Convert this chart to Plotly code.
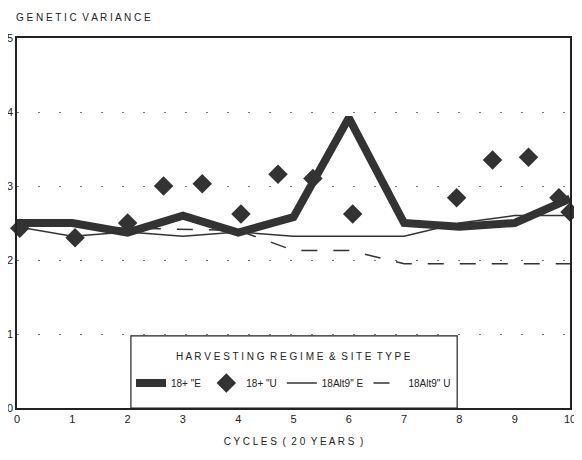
import plotly.graph_objects as go

cycles = [0, 1, 2, 3, 4, 5, 6, 7, 8, 9, 10]
e18 = [2.5, 2.5, 2.37, 2.6, 2.37, 2.58, 3.92, 2.5, 2.45, 2.5, 2.83]
alt9_e = [2.45, 2.32, 2.38, 2.32, 2.38, 2.32, 2.32, 2.32, 2.5, 2.6, 2.6]
alt9_u = [2.5, 2.45, 2.43, 2.42, 2.4, 2.13, 2.13, 1.95, 1.95, 1.95, 1.95]
u18_x = [0.05, 1.05, 2.0, 2.65, 3.35, 4.05, 4.72, 5.35, 6.07, 7.95, 8.6, 9.25, 9.8, 10.0]
u18_y = [2.43, 2.3, 2.5, 3.0, 3.03, 2.62, 3.16, 3.1, 2.62, 2.84, 3.35, 3.39, 2.84, 2.65]

dark = "#333333"
fig = go.Figure()
fig.add_trace(go.Scatter(x=cycles, y=e18, mode="lines", name="18+ \"E",
                         line=dict(color=dark, width=8)))
fig.add_trace(go.Scatter(x=u18_x, y=u18_y, mode="markers", name="18+ \"U",
                         marker=dict(symbol="diamond", size=15, color=dark), cliponaxis=False))
fig.add_trace(go.Scatter(x=cycles, y=alt9_e, mode="lines", name="18Alt9\" E",
                         line=dict(color=dark, width=1.5)))
fig.add_trace(go.Scatter(x=cycles, y=alt9_u, mode="lines", name="18Alt9\" U",
                         line=dict(color=dark, width=1.5, dash="16px,16px")))

font = dict(family="Liberation Sans, Arial, sans-serif", color="#222222", size=11)
# page has an 8px body margin, so the figure is sized/positioned to compensate
fig.update_layout(
    width=574, height=452,
    margin=dict(l=9, r=12, t=30, b=52),
    paper_bgcolor="white", plot_bgcolor="white",
    font=font,
    showlegend=True,
    legend=dict(orientation="h", x=0.5, xanchor="center", y=0.0676, yanchor="middle",
                borderwidth=0, bgcolor="rgba(0,0,0,0)",
                font=dict(size=10), itemwidth=30, tracegroupgap=0),
    xaxis=dict(range=[0, 10], tickvals=cycles, ticks="", showgrid=False, zeroline=False,
               showline=True, linecolor="#222222", linewidth=1.5, mirror=True,
               tickfont=dict(size=11),
               title=dict(text="C Y C L E S  (  2 0  Y E A R S  )", font=dict(size=10), standoff=14),
               automargin=False),
    yaxis=dict(range=[0, 5], tickvals=[0, 1, 2, 3, 4, 5], ticks="", showgrid=True,
               gridcolor="#777777", griddash="2px,19px", gridwidth=1.2, zeroline=False,
               showline=True, linecolor="#222222", linewidth=1.5, mirror=True,
               tickfont=dict(size=11), automargin=False),
    shapes=[dict(type="rect", xref="paper", yref="paper", x0=0.206, x1=0.796, y0=0, y1=0.195,
                 line=dict(color="#222222", width=1.2), fillcolor="white", layer="below")],
    annotations=[
        dict(text="G E N E T I C  V A R I A N C E", xref="paper", yref="paper",
             x=-0.005, y=1, xanchor="left", yanchor="bottom", yshift=13,
             showarrow=False, font=dict(size=10)),
        dict(text="H A R V E S T I N G  R E G I M E  &  S I T E  T Y P E", xref="paper", yref="paper",
             x=0.5, y=0.138, xanchor="center", yanchor="middle",
             showarrow=False, font=dict(size=10)),
    ],
)
fig.write_html("out.html")
